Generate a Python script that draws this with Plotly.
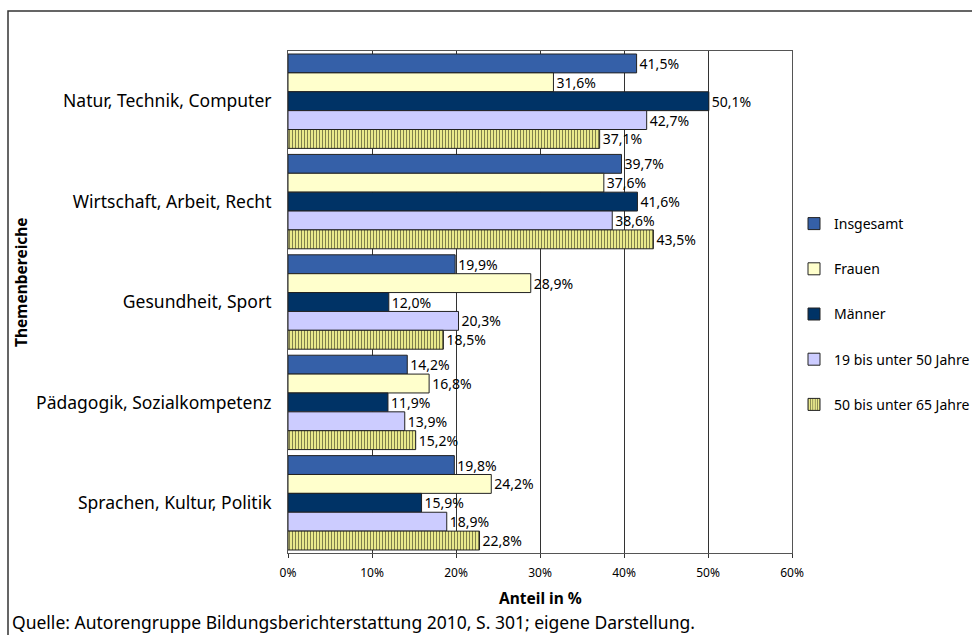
import plotly.graph_objects as go

categories = ["Natur, Technik, Computer", "Wirtschaft, Arbeit, Recht", "Gesundheit, Sport",
              "Pädagogik, Sozialkompetenz", "Sprachen, Kultur, Politik"]
series_names = ["Insgesamt", "Frauen", "Männer", "19 bis unter 50 Jahre", "50 bis unter 65 Jahre"]
insgesamt = [41.5, 39.7, 19.9, 14.2, 19.8]
frauen = [31.6, 37.6, 28.9, 16.8, 24.2]
maenner = [50.1, 41.6, 12.0, 11.9, 15.9]
jahre_19_50 = [42.7, 38.6, 20.3, 13.9, 18.9]
jahre_50_65 = [37.1, 43.5, 18.5, 15.2, 22.8]
x_ticks = [0, 10, 20, 30, 40, 50, 60]
x_tick_labels = ["0%", "10%", "20%", "30%", "40%", "50%", "60%"]

values = [insgesamt, frauen, maenner, jahre_19_50, jahre_50_65]
colors = ["#3560A8", "#FFFFCC", "#003366", "#CCCCFF", "#FFFF99"]

FONT = "Noto Sans"
fig = go.Figure()
for i, (name, vals, col) in enumerate(zip(series_names, values, colors)):
    marker = dict(color=col, line=dict(color="#222222", width=1))
    if i == 4:
        marker["pattern"] = dict(shape="|", fgcolor="#000000", bgcolor=col, size=3, solidity=0.45, fillmode="overlay")
    fig.add_trace(go.Bar(
        y=categories, x=vals, name=name, orientation="h", marker=marker,
        texttemplate="%{x:.1f}%", textposition="outside", cliponaxis=False, constraintext="none",
        textfont=dict(family=FONT, size=14, color="#000000"),
        legendgroup=name,
    ))

# pixel geometry of the plot area
px0, px1, py0, py1 = 288, 792, 51, 553
def xp(p): return (p - px0) / (px1 - px0)
def yp(p): return (py1 - p) / (py1 - py0)

fig.add_shape(type="rect", xref="paper", yref="paper", x0=xp(8), x1=xp(985), y0=yp(11), y1=yp(650),
              line=dict(color="#333333", width=1.5), fillcolor="rgba(0,0,0,0)", layer="below")

fig.add_annotation(text="Quelle: Autorengruppe Bildungsberichterstattung 2010, S. 301; eigene Darstellung.",
                   xref="paper", yref="paper", x=xp(10), y=yp(622), xanchor="left", yanchor="middle",
                   showarrow=False, font=dict(family=FONT, size=17.5, color="#000000"))
fig.add_annotation(text="<b>Anteil in %</b>", xref="paper", yref="paper", x=xp(540), y=yp(598),
                   xanchor="center", yanchor="middle", showarrow=False,
                   font=dict(family=FONT, size=15.5, color="#000000"))
fig.add_annotation(text="<b>Themenbereiche</b>", xref="paper", yref="paper", x=xp(21), y=yp(282),
                   xanchor="center", yanchor="middle", showarrow=False, textangle=-90,
                   font=dict(family=FONT, size=15.5, color="#000000"))

fig.update_layout(
    width=972, height=635,
    margin=dict(l=px0, r=972 - px1, t=py0, b=635 - py1, autoexpand=False),
    paper_bgcolor="white", plot_bgcolor="white",
    barmode="group", bargap=0.06, bargroupgap=0,
    font=dict(family=FONT, size=13, color="#000000"),
    separators=",.",
    showlegend=True,
    legend=dict(x=xp(794), y=yp(208), xanchor="left", yanchor="top",
                font=dict(family=FONT, size=14), tracegroupgap=24, bgcolor="rgba(0,0,0,0)"),
    xaxis=dict(range=[0, 60], tickvals=x_ticks, ticktext=x_tick_labels, showgrid=True, gridcolor="#333333",
               gridwidth=1, showline=True, linecolor="#555555", mirror=True, ticks="outside",
               ticklen=4, tickcolor="#333333", tickfont=dict(family=FONT, size=12), zeroline=False,
               ticklabelstandoff=5),
    yaxis=dict(autorange="reversed", showline=True, linecolor="#555555", mirror=True,
               tickfont=dict(family=FONT, size=17.5), ticklabelstandoff=12),
)

fig.write_html("out.html", config={"displayModeBar": False},
               post_script="document.body.style.margin='0';document.body.style.padding='0';")
